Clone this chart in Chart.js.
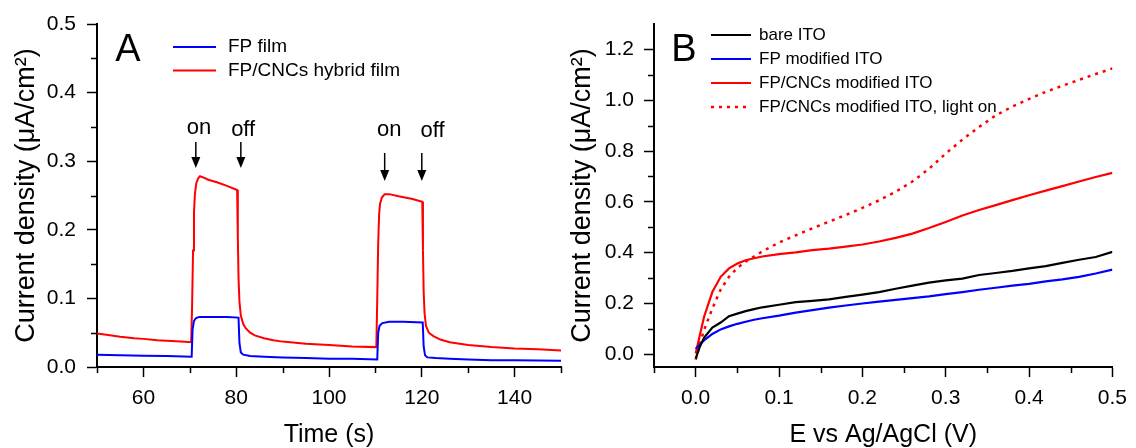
<!DOCTYPE html>
<html>
<head>
<meta charset="utf-8">
<script src="https://cdn.jsdelivr.net/npm/chart.js@4.4.0/dist/chart.umd.min.js"></script>
<style>
body { margin: 0; background: #fff; width: 1136px; height: 448px; overflow: hidden; position: relative; }
canvas { position: absolute; top: 0; }
#chartA { left: 0; }
#chartB { left: 565px; }
</style>
</head>
<body>
<canvas id="chartA" width="565" height="448"></canvas>
<canvas id="chartB" width="571" height="448"></canvas>
<script>
// ---- panel A : current vs time, light on/off ----
const timeFP = [50, 55, 60, 65, 70.4, 70.6, 70.9, 71.3, 72, 75, 78, 80.5, 80.7, 81, 81.5, 83, 86, 90, 95, 100, 105,
  110.4, 110.6, 110.9, 111.5, 113, 116, 120.2, 120.4, 120.7, 121.2, 123, 126, 130, 135, 140, 145, 150];
const currentFP = [0.018, 0.017, 0.0165, 0.016, 0.015, 0.055, 0.067, 0.071, 0.073, 0.073, 0.073, 0.072, 0.035, 0.021, 0.018, 0.016, 0.015, 0.014, 0.013, 0.012, 0.012,
  0.011, 0.05, 0.060, 0.064, 0.066, 0.066, 0.065, 0.03, 0.017, 0.014, 0.013, 0.012, 0.011, 0.010, 0.010, 0.0095, 0.009];

const timeHybrid = [50, 52, 55, 58, 60, 63, 66, 68, 70.3, 70.5, 70.7, 70.9, 71.1, 71.4, 71.8, 72.2, 73, 74, 76, 78, 80.2,
  80.35, 80.5, 80.7, 81, 81.5, 82, 83, 84, 86, 88, 90, 95, 100, 105, 110.2, 110.4, 110.6, 110.8, 111, 111.4, 112, 113,
  115, 118, 120.1, 120.25, 120.4, 120.6, 120.9, 121.5, 122.5, 124, 126, 130, 135, 140, 145, 150];
const currentHybrid = [0.049, 0.047, 0.044, 0.042, 0.041, 0.039, 0.038, 0.037, 0.036, 0.09, 0.17, 0.225, 0.252, 0.268, 0.275, 0.278, 0.276, 0.273, 0.269, 0.264, 0.258,
  0.19, 0.13, 0.095, 0.075, 0.063, 0.057, 0.050, 0.046, 0.042, 0.039, 0.037, 0.034, 0.032, 0.030, 0.029, 0.10, 0.18, 0.222, 0.238, 0.247, 0.252, 0.252,
  0.249, 0.245, 0.241, 0.17, 0.11, 0.078, 0.060, 0.050, 0.045, 0.040, 0.036, 0.032, 0.029, 0.027, 0.026, 0.024];

const seriesA = ['FP film', 'FP/CNCs hybrid film'];
const timeTicks = [60, 80, 100, 120, 140];
const timeMinor = [50, 70, 90, 110, 130, 150];
const currentTicksA = [0, 0.1, 0.2, 0.3, 0.4, 0.5];
const currentMinorA = [0.05, 0.15, 0.25, 0.35, 0.45];

// on / off markers (arrow x, arrow top, arrow tip, text x, text y)
const markerText = ['on', 'off', 'on', 'off'];
const markerTime = [71.3, 81.0, 112.0, 120.0];
const markerTop = [0.328, 0.328, 0.312, 0.312];
const markerTip = [0.29, 0.29, 0.271, 0.271];
const markerTextTime = [72, 81.5, 113, 122.3];
const markerTextVal = [0.348, 0.346, 0.346, 0.344];

// ---- panel B : current vs potential ----
const potential = [0, 0.005, 0.01, 0.02, 0.03, 0.04, 0.05, 0.06, 0.07, 0.08, 0.1, 0.12, 0.14, 0.16, 0.18, 0.2,
  0.22, 0.24, 0.26, 0.28, 0.3, 0.32, 0.34, 0.36, 0.38, 0.4, 0.42, 0.44, 0.46, 0.48, 0.5];
const bareITO = [-0.017, 0.03, 0.065, 0.105, 0.125, 0.15, 0.16, 0.17, 0.178, 0.185, 0.195, 0.205, 0.21, 0.216, 0.226, 0.235,
  0.245, 0.258, 0.27, 0.282, 0.291, 0.298, 0.312, 0.32, 0.328, 0.338, 0.347, 0.36, 0.372, 0.383, 0.403];
const fpITO = [0.022, 0.038, 0.055, 0.08, 0.098, 0.11, 0.12, 0.128, 0.136, 0.142, 0.152, 0.164, 0.174, 0.184, 0.192, 0.2,
  0.207, 0.214, 0.221, 0.228, 0.237, 0.245, 0.254, 0.262, 0.27, 0.277, 0.287, 0.295, 0.305, 0.318, 0.333];
const hybridITO = [0.003, 0.075, 0.147, 0.245, 0.305, 0.338, 0.357, 0.37, 0.378, 0.385, 0.394, 0.401, 0.41, 0.416, 0.424, 0.432,
  0.444, 0.458, 0.475, 0.497, 0.521, 0.546, 0.568, 0.587, 0.607, 0.626, 0.644, 0.662, 0.68, 0.698, 0.714];
const hybridLightOn = [-0.021, 0.04, 0.095, 0.18, 0.255, 0.305, 0.34, 0.365, 0.385, 0.405, 0.44, 0.468, 0.496, 0.522, 0.548, 0.576,
  0.606, 0.64, 0.68, 0.73, 0.79, 0.845, 0.895, 0.94, 0.975, 1.005, 1.033, 1.057, 1.08, 1.103, 1.125];

const seriesB = ['bare ITO', 'FP modified ITO', 'FP/CNCs modified ITO', 'FP/CNCs modified ITO, light on'];
const potentialTicks = [0, 0.1, 0.2, 0.3, 0.4, 0.5];
const potentialMinor = [-0.05, 0.05, 0.15, 0.25, 0.35, 0.45];
const currentTicksB = [0, 0.2, 0.4, 0.6, 0.8, 1.0, 1.2];
const currentMinorB = [0.1, 0.3, 0.5, 0.7, 0.9, 1.1];

const FONT = "'Liberation Sans', Arial, sans-serif";

function pairs(xs, ys) {
  return xs.map((x, i) => ({ x: x, y: ys[i] }));
}

// short ticks between the labelled ones
const minorTicks = {
  id: 'minorTicks',
  afterDraw(chart, args, opts) {
    const ctx = chart.ctx;
    const xs = chart.scales.x, ys = chart.scales.y;
    ctx.save();
    ctx.strokeStyle = '#000';
    ctx.lineWidth = 1.5;
    ctx.beginPath();
    opts.x.forEach(v => {
      const px = Math.round(xs.getPixelForValue(v)) + 0.5;
      ctx.moveTo(px, xs.top);
      ctx.lineTo(px, xs.top + opts.len);
    });
    opts.y.forEach(v => {
      const py = Math.round(ys.getPixelForValue(v)) + 0.5;
      ctx.moveTo(ys.right - opts.len, py);
      ctx.lineTo(ys.right, py);
    });
    ctx.stroke();
    ctx.restore();
  }
};

// legend + panel letter drawn by hand
const legendBox = {
  id: 'legendBox',
  afterDraw(chart, args, opts) {
    const ctx = chart.ctx;
    ctx.save();
    ctx.fillStyle = '#000';
    ctx.font = opts.letterSize + 'px ' + FONT;
    ctx.textAlign = 'center';
    ctx.textBaseline = 'middle';
    ctx.fillText(opts.letter, opts.letterX, opts.letterY);

    ctx.font = opts.size + 'px ' + FONT;
    ctx.textAlign = 'left';
    chart.data.datasets.forEach((ds, i) => {
      const y = opts.y + i * opts.dy;
      ctx.strokeStyle = ds.borderColor;
      ctx.lineWidth = ds.borderWidth;
      ctx.setLineDash(ds.borderDash || []);
      ctx.beginPath();
      ctx.moveTo(opts.x1, y);
      ctx.lineTo(opts.x2, y);
      ctx.stroke();
      ctx.fillText(ds.label, opts.textX, y);
    });
    ctx.restore();
  }
};

// arrows with on / off
const onOffMarks = {
  id: 'onOffMarks',
  afterDraw(chart) {
    const ctx = chart.ctx;
    const xs = chart.scales.x, ys = chart.scales.y;
    ctx.save();
    ctx.fillStyle = '#000';
    ctx.strokeStyle = '#000';
    ctx.lineWidth = 1.5;
    ctx.font = '22px ' + FONT;
    ctx.textAlign = 'center';
    ctx.textBaseline = 'middle';
    markerText.forEach((txt, i) => {
      const x = xs.getPixelForValue(markerTime[i]);
      const top = ys.getPixelForValue(markerTop[i]);
      const tip = ys.getPixelForValue(markerTip[i]);
      ctx.beginPath();
      ctx.moveTo(x, top);
      ctx.lineTo(x, tip - 8);
      ctx.stroke();
      ctx.beginPath();
      ctx.moveTo(x - 4.5, tip - 11);
      ctx.lineTo(x + 4.5, tip - 11);
      ctx.lineTo(x, tip);
      ctx.closePath();
      ctx.fill();
      ctx.fillText(txt, xs.getPixelForValue(markerTextTime[i]), ys.getPixelForValue(markerTextVal[i]));
    });
    ctx.restore();
  }
};

function axisOpts(min, max, ticks, decimals, title, titleSize, extra) {
  return Object.assign({
    type: 'linear',
    min: min,
    max: max,
    afterBuildTicks: s => { s.ticks = ticks.map(v => ({ value: v })); },
    ticks: {
      color: '#000',
      font: { family: FONT, size: 21 },
      padding: 9,
      autoSkip: false,
      maxRotation: 0,
      callback: v => decimals > 0 ? Number(v).toFixed(decimals) : String(v)
    },
    grid: { drawOnChartArea: false, drawTicks: true, tickLength: 10, tickWidth: 1.5, tickColor: '#000' },
    border: { display: true, color: '#000', width: 2 },
    title: {
      display: true,
      text: title,
      color: '#000',
      font: { family: FONT, size: titleSize, lineHeight: 1 },
      padding: { top: 0, bottom: 0 }
    }
  }, extra);
}

const yTitle = 'Current density (\u03bcA/cm\u00b2)';

const scaleYA = axisOpts(0, 0.5, currentTicksA, 1, yTitle, 27, { afterFit: s => { s.width = 97; } });
scaleYA.title.padding = { top: 13, bottom: 0 };
scaleYA.ticks.padding = 11;

new Chart(document.getElementById('chartA'), {
  type: 'line',
  data: {
    datasets: [
      { label: seriesA[0], data: pairs(timeFP, currentFP), borderColor: '#0000ff', borderWidth: 2 },
      { label: seriesA[1], data: pairs(timeHybrid, currentHybrid), borderColor: '#ff0000', borderWidth: 2 }
    ]
  },
  options: {
    responsive: false,
    animation: false,
    devicePixelRatio: 1,
    layout: { padding: { left: 0, top: 24, right: 4, bottom: 0 } },
    elements: { point: { radius: 0 }, line: { tension: 0 } },
    plugins: {
      legend: { display: false },
      tooltip: { enabled: false },
      minorTicks: { x: timeMinor, y: currentMinorA, len: 6 },
      legendBox: { letter: 'A', letterSize: 38, letterX: 128, letterY: 51, size: 19, x1: 173, x2: 216, textX: 228, y: 47, dy: 23.6 }
    },
    scales: {
      x: axisOpts(50, 150, timeTicks, 0, 'Time (s)', 25, { afterFit: s => { s.height = 81; } }),
      y: scaleYA
    }
  },
  plugins: [minorTicks, legendBox, onOffMarks]
});

const scaleYB = axisOpts(-0.05, 1.3, currentTicksB, 1, yTitle, 27, { afterFit: s => { s.width = 89; } });
scaleYB.title.padding = { top: 4, bottom: 0 };
scaleYB.ticks.padding = 10;

new Chart(document.getElementById('chartB'), {
  type: 'line',
  data: {
    datasets: [
      { label: seriesB[0], data: pairs(potential, bareITO), borderColor: '#000000', borderWidth: 2.2 },
      { label: seriesB[1], data: pairs(potential, fpITO), borderColor: '#0000ff', borderWidth: 2.2 },
      { label: seriesB[2], data: pairs(potential, hybridITO), borderColor: '#ff0000', borderWidth: 2.2 },
      { label: seriesB[3], data: pairs(potential, hybridLightOn), borderColor: '#ff0000', borderWidth: 2.5, borderDash: [3, 5] }
    ]
  },
  options: {
    responsive: false,
    animation: false,
    devicePixelRatio: 1,
    layout: { padding: { left: 0, top: 24, right: 17, bottom: 0 } },
    elements: { point: { radius: 0 }, line: { tension: 0 } },
    plugins: {
      legend: { display: false },
      tooltip: { enabled: false },
      minorTicks: { x: potentialMinor, y: currentMinorB, len: 6 },
      legendBox: { letter: 'B', letterSize: 38, letterX: 119, letterY: 51, size: 17, x1: 146, x2: 186, textX: 194, y: 35, dy: 24 }
    },
    scales: {
      x: axisOpts(-0.05, 0.5, potentialTicks, 1, 'E vs Ag/AgCl (V)', 25, { afterFit: s => { s.height = 81; } }),
      y: scaleYB
    }
  },
  plugins: [minorTicks, legendBox]
});
</script>
</body>
</html>
